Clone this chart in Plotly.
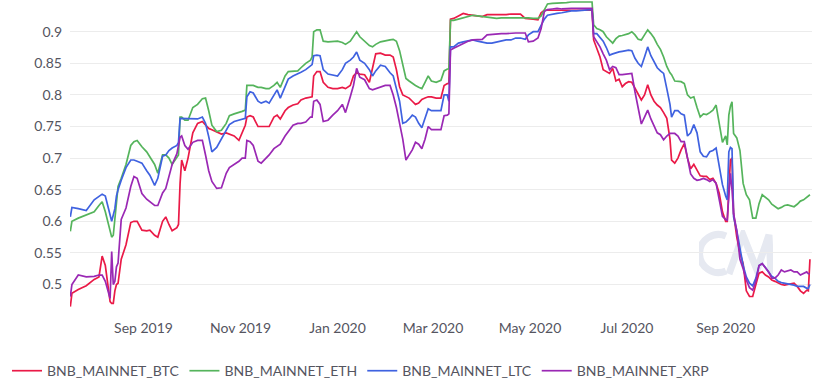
import plotly.graph_objects as go

dates = [
    "2019-07-17", "2019-07-18", "2019-07-22", "2019-07-27", "2019-08-01", "2019-08-04", "2019-08-06", "2019-08-08",
    "2019-08-11", "2019-08-12", "2019-08-13", "2019-08-14", "2019-08-15", "2019-08-16", "2019-08-18", "2019-08-21",
    "2019-08-24", "2019-08-26", "2019-08-28", "2019-08-31", "2019-09-03", "2019-09-05", "2019-09-08", "2019-09-10",
    "2019-09-13", "2019-09-15", "2019-09-17", "2019-09-19", "2019-09-22", "2019-09-23", "2019-09-24", "2019-09-25",
    "2019-09-27", "2019-09-29", "2019-10-02", "2019-10-05", "2019-10-08", "2019-10-10", "2019-10-12", "2019-10-14",
    "2019-10-17", "2019-10-20", "2019-10-23", "2019-10-25", "2019-10-28", "2019-10-31", "2019-11-02", "2019-11-04",
    "2019-11-05", "2019-11-07", "2019-11-09", "2019-11-12", "2019-11-14", "2019-11-17", "2019-11-19", "2019-11-22",
    "2019-11-24", "2019-11-26", "2019-11-29", "2019-12-01", "2019-12-04", "2019-12-07", "2019-12-09", "2019-12-12",
    "2019-12-15", "2019-12-16", "2019-12-17", "2019-12-19", "2019-12-21", "2019-12-23", "2019-12-26", "2019-12-29",
    "2020-01-01", "2020-01-04", "2020-01-06", "2020-01-09", "2020-01-11", "2020-01-13", "2020-01-15", "2020-01-18",
    "2020-01-21", "2020-01-23", "2020-01-25", "2020-01-28", "2020-01-31", "2020-02-03", "2020-02-05", "2020-02-07",
    "2020-02-09", "2020-02-11", "2020-02-13", "2020-02-15", "2020-02-17", "2020-02-19", "2020-02-21", "2020-02-23",
    "2020-02-25", "2020-02-27", "2020-02-29", "2020-03-03", "2020-03-06", "2020-03-08", "2020-03-10", "2020-03-11",
    "2020-03-12", "2020-03-14", "2020-03-17", "2020-03-20", "2020-03-23", "2020-03-26", "2020-03-29", "2020-04-01",
    "2020-04-04", "2020-04-07", "2020-04-10", "2020-04-13", "2020-04-16", "2020-04-19", "2020-04-22", "2020-04-25",
    "2020-04-28", "2020-04-30", "2020-05-03", "2020-05-06", "2020-05-08", "2020-05-10", "2020-05-12", "2020-05-15",
    "2020-05-18", "2020-05-21", "2020-05-24", "2020-05-27", "2020-05-30", "2020-06-02", "2020-06-05", "2020-06-08",
    "2020-06-09", "2020-06-10", "2020-06-12", "2020-06-14", "2020-06-16", "2020-06-18", "2020-06-20", "2020-06-22",
    "2020-06-24", "2020-06-26", "2020-06-28", "2020-06-30", "2020-07-02", "2020-07-04", "2020-07-06", "2020-07-08",
    "2020-07-10", "2020-07-12", "2020-07-14", "2020-07-16", "2020-07-18", "2020-07-20", "2020-07-22", "2020-07-24",
    "2020-07-26", "2020-07-28", "2020-07-29", "2020-07-31", "2020-08-02", "2020-08-04", "2020-08-06", "2020-08-08",
    "2020-08-10", "2020-08-12", "2020-08-14", "2020-08-16", "2020-08-18", "2020-08-20", "2020-08-22", "2020-08-24",
    "2020-08-26", "2020-08-28", "2020-08-30", "2020-09-01", "2020-09-02", "2020-09-03", "2020-09-04", "2020-09-05",
    "2020-09-06", "2020-09-08", "2020-09-10", "2020-09-12", "2020-09-14", "2020-09-16", "2020-09-18", "2020-09-20",
    "2020-09-22", "2020-09-24", "2020-09-26", "2020-09-28", "2020-09-30", "2020-10-02", "2020-10-04", "2020-10-06",
    "2020-10-08", "2020-10-10", "2020-10-12", "2020-10-14", "2020-10-16", "2020-10-18", "2020-10-20", "2020-10-22",
    "2020-10-23", "2020-10-24",
]

btc = [
    0.465, 0.486, 0.492, 0.498, 0.508, 0.512, 0.545, 0.530,
    0.473, 0.470, 0.470, 0.490, 0.500, 0.502, 0.540, 0.563,
    0.598, 0.600, 0.600, 0.586, 0.585, 0.586, 0.578, 0.575,
    0.600, 0.607, 0.595, 0.585, 0.590, 0.595, 0.660, 0.697,
    0.680, 0.700, 0.740, 0.755, 0.758, 0.752, 0.747, 0.745,
    0.742, 0.738, 0.740, 0.738, 0.735, 0.728, 0.740, 0.752,
    0.765, 0.767, 0.765, 0.750, 0.750, 0.750, 0.750, 0.765,
    0.768, 0.762, 0.775, 0.780, 0.784, 0.786, 0.792, 0.795,
    0.797, 0.797, 0.830, 0.837, 0.837, 0.820, 0.812, 0.810,
    0.810, 0.812, 0.810, 0.815, 0.830, 0.835, 0.833, 0.832,
    0.820, 0.845, 0.865, 0.866, 0.863, 0.863, 0.860, 0.840,
    0.813, 0.800, 0.797, 0.795, 0.790, 0.785, 0.787, 0.793,
    0.795, 0.797, 0.797, 0.795, 0.795, 0.815, 0.818, 0.818,
    0.920, 0.921, 0.925, 0.929, 0.927, 0.926, 0.926, 0.924,
    0.927, 0.927, 0.926, 0.927, 0.927, 0.928, 0.928, 0.928,
    0.921, 0.921, 0.920, 0.919, 0.930, 0.934, 0.934, 0.934,
    0.934, 0.934, 0.935, 0.935, 0.935, 0.935, 0.934, 0.934,
    0.934, 0.887, 0.875, 0.860, 0.840, 0.837, 0.834, 0.842,
    0.822, 0.825, 0.813, 0.818, 0.821, 0.820, 0.810, 0.800,
    0.792, 0.800, 0.816, 0.800, 0.790, 0.784, 0.780, 0.772,
    0.763, 0.730, 0.697, 0.692, 0.700, 0.713, 0.723, 0.700,
    0.683, 0.690, 0.680, 0.672, 0.671, 0.671, 0.666, 0.668,
    0.660, 0.644, 0.615, 0.600, 0.600, 0.660, 0.697, 0.700,
    0.612, 0.575, 0.550, 0.533, 0.490, 0.481, 0.481, 0.500,
    0.518, 0.520, 0.515, 0.512, 0.507, 0.505, 0.502, 0.500,
    0.499, 0.500, 0.500, 0.502, 0.497, 0.490, 0.486, 0.491,
    0.490, 0.540,
]

eth = [
    0.584, 0.600, 0.605, 0.610, 0.615, 0.625, 0.631, 0.615,
    0.585, 0.575, 0.578, 0.605, 0.640, 0.655, 0.668, 0.690,
    0.720, 0.726, 0.728, 0.718, 0.710, 0.702, 0.690, 0.676,
    0.705, 0.705, 0.700, 0.690, 0.700, 0.705, 0.765, 0.765,
    0.760, 0.760, 0.780, 0.785, 0.794, 0.795, 0.775, 0.752,
    0.742, 0.744, 0.755, 0.767, 0.770, 0.772, 0.774, 0.776,
    0.815, 0.815, 0.815, 0.812, 0.812, 0.810, 0.810, 0.815,
    0.820, 0.812, 0.830, 0.837, 0.837, 0.838, 0.843, 0.850,
    0.855, 0.860, 0.900, 0.903, 0.903, 0.885, 0.884, 0.884,
    0.885, 0.883, 0.880, 0.885, 0.893, 0.900, 0.892, 0.885,
    0.878, 0.876, 0.880, 0.884, 0.886, 0.887, 0.888, 0.885,
    0.870, 0.850, 0.826, 0.822, 0.818, 0.815, 0.812, 0.810,
    0.820, 0.830, 0.822, 0.820, 0.823, 0.838, 0.841, 0.841,
    0.918, 0.918, 0.920, 0.922, 0.924, 0.926, 0.925, 0.924,
    0.924, 0.923, 0.921, 0.922, 0.922, 0.923, 0.923, 0.923,
    0.922, 0.922, 0.921, 0.921, 0.925, 0.935, 0.944, 0.945,
    0.945, 0.946, 0.946, 0.947, 0.947, 0.947, 0.947, 0.947,
    0.947, 0.911, 0.905, 0.903, 0.900, 0.892, 0.887, 0.882,
    0.889, 0.893, 0.894, 0.895, 0.897, 0.900, 0.895, 0.888,
    0.887, 0.895, 0.903, 0.897, 0.890, 0.880, 0.872, 0.860,
    0.845, 0.835, 0.832, 0.822, 0.821, 0.821, 0.818, 0.800,
    0.795, 0.797, 0.780, 0.765, 0.770, 0.769, 0.772, 0.776,
    0.784, 0.755, 0.725, 0.735, 0.721, 0.768, 0.782, 0.789,
    0.739, 0.732, 0.712, 0.660, 0.642, 0.634, 0.605, 0.605,
    0.628, 0.642, 0.638, 0.634, 0.627, 0.623, 0.620, 0.622,
    0.625, 0.626, 0.624, 0.623, 0.627, 0.632, 0.634, 0.638,
    0.640, 0.642,
]

ltc = [
    0.607, 0.622, 0.620, 0.617, 0.634, 0.640, 0.643, 0.640,
    0.610, 0.600, 0.610, 0.620, 0.640, 0.650, 0.665, 0.685,
    0.697, 0.697, 0.695, 0.692, 0.680, 0.673, 0.657, 0.668,
    0.703, 0.705, 0.712, 0.716, 0.720, 0.725, 0.763, 0.763,
    0.763, 0.763, 0.763, 0.762, 0.765, 0.755, 0.734, 0.710,
    0.717, 0.730, 0.745, 0.753, 0.758, 0.760, 0.762, 0.763,
    0.797, 0.805, 0.803, 0.790, 0.787, 0.790, 0.787, 0.800,
    0.808, 0.795, 0.815, 0.825, 0.830, 0.833, 0.836, 0.840,
    0.845, 0.848, 0.862, 0.863, 0.862, 0.840, 0.833, 0.831,
    0.830, 0.840, 0.850, 0.855, 0.860, 0.868, 0.855, 0.850,
    0.840, 0.830, 0.838, 0.847, 0.845, 0.835, 0.830, 0.810,
    0.790, 0.755, 0.757, 0.762, 0.768, 0.765, 0.755, 0.748,
    0.765, 0.778, 0.775, 0.775, 0.775, 0.800, 0.800, 0.790,
    0.876, 0.876, 0.882, 0.884, 0.886, 0.887, 0.885, 0.883,
    0.882, 0.882, 0.884, 0.886, 0.887, 0.887, 0.890, 0.890,
    0.888, 0.895, 0.900, 0.900, 0.910, 0.920, 0.926, 0.928,
    0.929, 0.930, 0.932, 0.933, 0.933, 0.934, 0.934, 0.935,
    0.935, 0.897, 0.897, 0.890, 0.885, 0.875, 0.863, 0.865,
    0.867, 0.868, 0.869, 0.870, 0.871, 0.870, 0.858, 0.850,
    0.845, 0.860, 0.876, 0.862, 0.852, 0.843, 0.838, 0.834,
    0.810, 0.785, 0.765, 0.775, 0.775, 0.770, 0.768, 0.735,
    0.740, 0.753, 0.740, 0.710, 0.703, 0.702, 0.710, 0.712,
    0.716, 0.686, 0.658, 0.640, 0.634, 0.710, 0.717, 0.715,
    0.607, 0.585, 0.555, 0.530, 0.512, 0.502, 0.498, 0.510,
    0.530, 0.533, 0.527, 0.520, 0.513, 0.510, 0.505, 0.503,
    0.502, 0.502, 0.500, 0.499, 0.497, 0.497, 0.497, 0.494,
    0.494, 0.500,
]

xrp = [
    0.481, 0.500, 0.515, 0.512, 0.513, 0.515, 0.515, 0.505,
    0.478, 0.552, 0.500, 0.505, 0.528, 0.534, 0.603, 0.621,
    0.655, 0.671, 0.668, 0.644, 0.635, 0.631, 0.625, 0.625,
    0.645, 0.652, 0.672, 0.690, 0.707, 0.720, 0.733, 0.735,
    0.720, 0.714, 0.725, 0.728, 0.728, 0.705, 0.680, 0.663,
    0.652, 0.653, 0.676, 0.685, 0.690, 0.695, 0.700, 0.700,
    0.728, 0.726, 0.720, 0.695, 0.692, 0.700, 0.705, 0.715,
    0.718, 0.722, 0.735, 0.742, 0.752, 0.755, 0.755, 0.757,
    0.765, 0.765, 0.790, 0.792, 0.785, 0.758, 0.760, 0.768,
    0.775, 0.785, 0.772, 0.797, 0.815, 0.842, 0.828, 0.824,
    0.810, 0.808, 0.810, 0.813, 0.815, 0.815, 0.800, 0.780,
    0.755, 0.730, 0.697, 0.705, 0.713, 0.725, 0.722, 0.715,
    0.730, 0.750, 0.745, 0.745, 0.745, 0.767, 0.768, 0.770,
    0.871, 0.874, 0.878, 0.882, 0.885, 0.887, 0.888, 0.888,
    0.895, 0.896, 0.897, 0.897, 0.897, 0.898, 0.898, 0.898,
    0.898, 0.884, 0.885, 0.890, 0.905, 0.932, 0.935, 0.936,
    0.937, 0.936, 0.937, 0.937, 0.937, 0.937, 0.937, 0.937,
    0.937, 0.892, 0.885, 0.876, 0.865, 0.855, 0.840, 0.845,
    0.843, 0.832, 0.832, 0.833, 0.834, 0.834, 0.805, 0.780,
    0.754, 0.765, 0.776, 0.762, 0.750, 0.740, 0.737, 0.729,
    0.735, 0.739, 0.739, 0.739, 0.735, 0.726, 0.726, 0.700,
    0.675, 0.668, 0.665, 0.666, 0.668, 0.666, 0.663, 0.666,
    0.660, 0.634, 0.608, 0.603, 0.602, 0.640, 0.676, 0.650,
    0.612, 0.585, 0.540, 0.525, 0.507, 0.495, 0.491, 0.505,
    0.530, 0.533, 0.527, 0.520, 0.510, 0.510, 0.515, 0.523,
    0.520, 0.522, 0.523, 0.520, 0.520, 0.515, 0.518, 0.520,
    0.517, 0.517,
]

series = [
    ("BNB_MAINNET_BTC", btc, "#ea1a47"),
    ("BNB_MAINNET_ETH", eth, "#55b45c"),
    ("BNB_MAINNET_LTC", ltc, "#3f62e0"),
    ("BNB_MAINNET_XRP", xrp, "#9a28b4"),
]

text_color = "#55555f"
font_family = "Lato, 'Open Sans', sans-serif"

fig = go.Figure()
for name, vals, color in series:
    fig.add_trace(go.Scatter(
        x=dates, y=vals, name=name, mode="lines",
        line=dict(color=color, width=1.7),
    ))

cm_svg = (
    "<svg xmlns='http://www.w3.org/2000/svg' viewBox='0 0 74 47' width='74' height='47'>"
    "<path d='M27 6 A19 19 0 1 0 27 41' fill='none' stroke='%23e6e9f1' stroke-width='7'/>"
    "<path d='M30 44 L44 5 L58 40 L70 5 L72 44' fill='none' stroke='%23e6e9f1' stroke-width='7' stroke-linejoin='miter'/>"
    "</svg>"
)
fig.add_layout_image(dict(
    source="data:image/svg+xml;utf8," + cm_svg,
    xref="paper", yref="paper", x=0.8477, y=0.2628,
    sizex=0.0997, sizey=0.1506, xanchor="left", yanchor="top",
    sizing="stretch", layer="below",
))

fig.update_layout(
    width=825, height=389,
    margin=dict(l=70, r=13, t=0, b=77),
    paper_bgcolor="white",
    plot_bgcolor="rgba(0,0,0,0)",
    font=dict(family=font_family, size=14, color=text_color),
    showlegend=True,
    legend=dict(
        orientation="h", xref="container", yref="container",
        x=0.0085, y=0.046, xanchor="left", yanchor="middle",
        font=dict(size=14, color=text_color),
        bgcolor="rgba(0,0,0,0)",
    ),
    hovermode="x",
)
fig.update_xaxes(
    type="date",
    range=["2019-07-16 19:00", "2020-10-25 07:00"],
    dtick="M2", tick0="2019-09-01", tickformat="%b %Y",
    showgrid=False, zeroline=False, showline=False, ticks="",
    ticklabelstandoff=6,
    tickfont=dict(size=14, color=text_color),
)
fig.update_yaxes(
    range=[0.4565, 0.9502],
    dtick=0.05, tick0=0.5,
    showgrid=True, gridcolor="#ececec", gridwidth=1,
    zeroline=False, showline=False, ticks="",
    ticklabelstandoff=7,
    tickfont=dict(size=14, color=text_color),
)

fig.write_html(
    "out.html",
    config={"displayModeBar": False},
    post_script="document.body.style.margin='0px';document.body.style.padding='0px';",
)
